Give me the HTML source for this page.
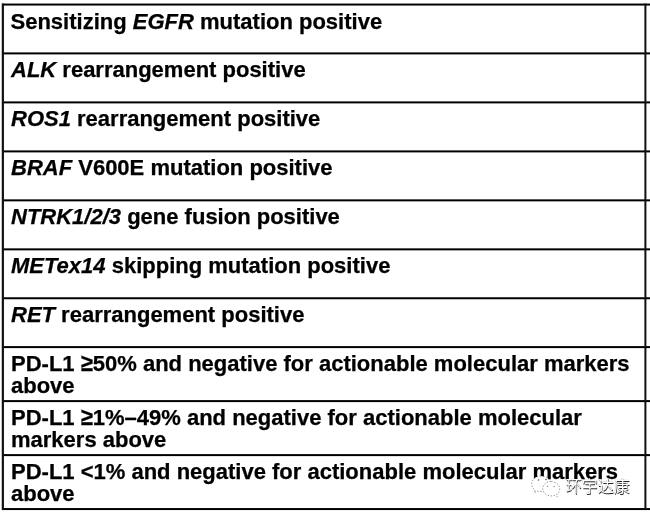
<!DOCTYPE html>
<html><head><meta charset="utf-8">
<style>
html,body{margin:0;padding:0;background:#fff;}
body{width:650px;height:516px;position:relative;overflow:hidden;
 font-family:"Liberation Sans",Arial,sans-serif;font-weight:bold;font-size:22px;color:#000;}
.grid{position:absolute;left:0;top:0;}
.t{position:absolute;left:11px;white-space:nowrap;line-height:22px;-webkit-text-stroke:0.25px #000;}
i{font-style:italic;}
.ge{display:inline-block;transform:translateY(-1.2px) scaleY(1.1);}
.wm{position:absolute;left:0;top:0;}
.wmt{position:absolute;left:565.8px;top:477px;font-family:"Liberation Sans","Noto Sans CJK SC",sans-serif;font-weight:normal;font-size:16px;line-height:20px;color:#fff;white-space:nowrap;
 text-shadow:0.5px 0.6px 0.6px rgba(0,0,0,.85),0 0 0.8px rgba(0,0,0,.5);}
</style></head><body>
<svg class="grid" width="650" height="516" viewBox="0 0 650 516"><rect x="2.1" y="3.55" width="647.9" height="2"/><rect x="2.1" y="52.4" width="647.9" height="2"/><rect x="2.1" y="101.4" width="647.9" height="2"/><rect x="2.1" y="150.4" width="647.9" height="2"/><rect x="2.1" y="199.35" width="647.9" height="2"/><rect x="2.1" y="248.35" width="647.9" height="2"/><rect x="2.1" y="297.25" width="647.9" height="2"/><rect x="2.1" y="346.1" width="647.9" height="2"/><rect x="2.1" y="400.1" width="647.9" height="2"/><rect x="2.1" y="454.1" width="647.9" height="2"/><rect x="2.1" y="508.05" width="647.9" height="2"/><rect x="1.75" y="3.55" width="2.2" height="506.5" fill="#111"/><rect x="644.4" y="3.55" width="2" height="506.5" fill="#111"/></svg>
<div class="t" style="top:11px;left:10.5px">Sensitizing <i>EGFR</i> mutation positive</div>
<div class="t" style="top:59px"><i>ALK</i> rearrangement positive</div>
<div class="t" style="top:108px"><i>ROS1</i> rearrangement positive</div>
<div class="t" style="top:157px"><i>BRAF</i> V600E mutation positive</div>
<div class="t" style="top:206px"><i>NTRK1/2/3</i> gene fusion positive</div>
<div class="t" style="top:255px"><i>METex14</i> skipping mutation positive</div>
<div class="t" style="top:304px"><i>RET</i> rearrangement positive</div>
<div class="t" style="top:353px">PD-L1 <span class="ge">≥</span>50% and negative for actionable molecular markers<br>above</div>
<div class="t" style="top:407px">PD-L1 <span class="ge">≥</span>1%–49% and negative for actionable molecular<br>markers above</div>
<div class="t" style="top:461px">PD-L1 &lt;1% and negative for actionable molecular markers<br>above</div>
<svg class="wm" width="650" height="516" viewBox="0 0 650 516">
<g fill="#fff" stroke="#444" stroke-width="0.7" stroke-dasharray="1.4 1.6" stroke-opacity="0.8">
<path d="M541 476c-5.2 0-9.3 3.6-9.3 8c0 2.5 1.3 4.6 3.4 6.1l-0.9 2.6l3.3-1.6c1.1 0.3 2.3 0.5 3.5 0.5c5.2 0 9.3-3.6 9.3-8s-4.1-7.6-9.3-7.6z"/>
<path d="M551.2 481.6c4.7 0 8.5 3.3 8.5 7.3c0 2.2-1.1 4.1-2.9 5.4l0.7 2.5l-2.8-1.4c-1.1 0.3-2.3 0.5-3.5 0.5c-4.7 0-8.5-3.3-8.5-7.3s3.8-7.3 8.5-7.3z"/>
</g>
<g fill="#333" opacity="0.8">
<circle cx="538.5" cy="480" r="0.8"/><circle cx="546" cy="479.5" r="0.8"/>
<circle cx="547.7" cy="486.5" r="0.6"/><circle cx="554.1" cy="486.5" r="0.6"/>
</g>
</svg>
<div class="wmt">环宇达康</div>
</body></html>
